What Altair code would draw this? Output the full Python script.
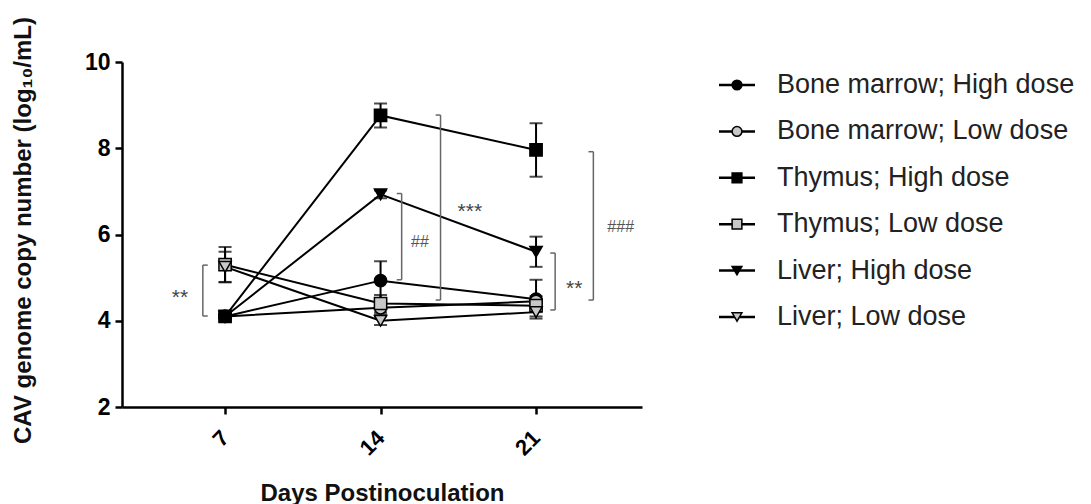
import altair as alt
import pandas as pd

# ---- data ----
days = [7, 14, 21]
series = [
    "Bone marrow; High dose",
    "Bone marrow; Low dose",
    "Thymus; High dose",
    "Thymus; Low dose",
    "Liver; High dose",
    "Liver; Low dose",
]
bm_high = [4.10, 4.93, 4.50]
bm_high_sem = [0.05, 0.45, 0.45]
bm_low = [4.10, 4.30, 4.45]
bm_low_sem = [0.05, 0.15, 0.12]
thy_high = [4.10, 8.76, 7.96]
thy_high_sem = [0.05, 0.28, 0.62]
thy_low = [5.30, 4.40, 4.35]
thy_low_sem = [0.41, 0.20, 0.15]
liv_high = [4.10, 6.93, 5.60]
liv_high_sem = [0.05, 0.09, 0.35]
liv_low = [5.25, 4.00, 4.20]
liv_low_sem = [0.35, 0.10, 0.10]

shapes = ["circle", "circle", "square", "square", "triangle-down", "triangle-down"]
fills = ["black", "#c8c8c8", "black", "#c8c8c8", "black", "#c8c8c8"]
marker_sizes = [150, 150, 165, 165, 200, 200]
legend_sizes = [95, 95, 105, 105, 130, 130]

# significance brackets
br_x = [6.00, 14.95, 16.70, 21.86, 23.58]
br_lo = [4.11, 4.95, 4.48, 4.25, 4.48]
br_hi = [5.29, 6.95, 8.77, 5.57, 7.92]
br_dir = [1, -1, -1, -1, -1]
br_label = ["**", "##", "***", "**", "###"]
lab_x = [4.97, 15.76, 18.02, 22.72, 24.80]
lab_y = [4.70, 5.83, 6.69, 4.90, 6.18]

means = [bm_high, bm_low, thy_high, thy_low, liv_high, liv_low]
sems = [bm_high_sem, bm_low_sem, thy_high_sem, thy_low_sem, liv_high_sem, liv_low_sem]

rows = []
for i, (name, m, s) in enumerate(zip(series, means, sems)):
    for d, mv, sv in zip(days, m, s):
        rows.append({"series": name, "order": i, "day": d, "mean": mv,
                     "lo": mv - sv, "hi": mv + sv})
df = pd.DataFrame(rows)

br = pd.DataFrame({"x": br_x, "lo": br_lo, "hi": br_hi,
                   "xe": [x + 0.22 * d for x, d in zip(br_x, br_dir)]})
lab = pd.DataFrame({"x": lab_x, "y": lab_y, "label": br_label})
lab_stars = lab[lab["label"].str.startswith("*")]
lab_hash = lab[lab["label"].str.startswith("#")]
leg = pd.DataFrame({"series": series})

FONT = "Liberation Sans"
xs = alt.Scale(domain=[2.36, 25.77], nice=False, zero=False)
ys = alt.Scale(domain=[2, 10], nice=False, zero=False)
shape_scale = alt.Scale(domain=series, range=shapes)
fill_scale = alt.Scale(domain=series, range=fills)
size_scale = alt.Scale(domain=series, range=marker_sizes)
leg_size_scale = alt.Scale(domain=series, range=legend_sizes)

x_axis = alt.Axis(values=days, labelAngle=-45, labelAlign="right", labelBaseline="middle",
                  labelPadding=20, labelFontSize=22, labelFontWeight="bold", labelFont=FONT,
                  labelColor="black", tickSize=7, tickWidth=2.5, tickColor="black",
                  domainWidth=2.5, domainColor="black", grid=False,
                  title="Days Postinoculation", titleFont=FONT, titleFontSize=24,
                  titleFontWeight="bold", titleColor="#111", titleBaseline="alphabetic",
                  titleY=93)
y_axis = alt.Axis(values=[2, 4, 6, 8, 10], labelFontSize=23, labelFontWeight="bold",
                  labelFont=FONT, labelColor="black", labelPadding=5, tickSize=7,
                  tickWidth=2.5, tickColor="black", domainWidth=2.5, domainColor="black",
                  grid=False, title="CAV genome copy number (log₁₀/mL)", titleFont=FONT,
                  titleFontSize=24, titleFontWeight="bold", titleColor="#111",
                  titleAngle=270, titleX=-99, titleY=168, titleAlign="center",
                  titleBaseline="middle")

base = alt.Chart(df)
lines = base.mark_line(color="black", strokeWidth=2).encode(
    x=alt.X("day:Q", scale=xs, axis=x_axis),
    y=alt.Y("mean:Q", scale=ys, axis=y_axis),
    detail="series:N",
    order="day:Q",
)
errs = base.mark_rule(color="black", strokeWidth=2).encode(
    x=alt.X("day:Q", scale=xs), y=alt.Y("lo:Q", scale=ys), y2="hi:Q")
caps = base.transform_fold(["lo", "hi"], as_=["k", "v"]).mark_tick(
    orient="horizontal", color="black", size=13, thickness=2).encode(
    x=alt.X("day:Q", scale=xs), y=alt.Y("v:Q", scale=ys))
points = base.mark_point(filled=True, stroke="black", strokeWidth=1.5, opacity=1).encode(
    x=alt.X("day:Q", scale=xs), y=alt.Y("mean:Q", scale=ys),
    shape=alt.Shape("series:N", scale=shape_scale, legend=None),
    fill=alt.Fill("series:N", scale=fill_scale, legend=None),
    size=alt.Size("series:N", scale=size_scale, legend=None),
    order="order:Q",
)

bcol = "#666666"
bv = alt.Chart(br).mark_rule(color=bcol, strokeWidth=1.5).encode(
    x=alt.X("x:Q", scale=xs), y=alt.Y("lo:Q", scale=ys), y2="hi:Q")
bt1 = alt.Chart(br).mark_rule(color=bcol, strokeWidth=1.5).encode(
    x=alt.X("x:Q", scale=xs), x2="xe:Q", y=alt.Y("lo:Q", scale=ys))
bt2 = alt.Chart(br).mark_rule(color=bcol, strokeWidth=1.5).encode(
    x=alt.X("x:Q", scale=xs), x2="xe:Q", y=alt.Y("hi:Q", scale=ys))
stars = alt.Chart(lab_stars).mark_text(font=FONT, fontSize=21, color="#444", baseline="middle",
                                       align="center", dy=7).encode(
    x=alt.X("x:Q", scale=xs), y=alt.Y("y:Q", scale=ys), text="label:N")
hashes = alt.Chart(lab_hash).mark_text(font=FONT, fontSize=16, color="#555", baseline="middle",
                                       align="center", fontStyle="italic").encode(
    x=alt.X("x:Q", scale=xs), y=alt.Y("y:Q", scale=ys), text="label:N")

main = alt.layer(lines, errs, caps, points, bv, bt1, bt2, stars, hashes)

ly = alt.Y("series:N", scale=alt.Scale(type="point", domain=series, range=[23, 255], padding=0),
           axis=None)
leg_line = alt.Chart(leg).mark_rule(color="black", strokeWidth=2.5).encode(
    x=alt.value(597), x2=alt.value(633), y=ly)
leg_pt = alt.Chart(leg).mark_point(filled=True, stroke="black", strokeWidth=1.5,
                                   opacity=1).encode(
    x=alt.value(615), y=ly,
    shape=alt.Shape("series:N", scale=shape_scale, legend=None),
    fill=alt.Fill("series:N", scale=fill_scale, legend=None),
    size=alt.Size("series:N", scale=leg_size_scale, legend=None))
leg_txt = alt.Chart(leg).mark_text(font=FONT, fontSize=27, align="left", baseline="middle",
                                   color="#222").encode(
    x=alt.value(655), y=ly, text="series:N")
legend = alt.layer(leg_line, leg_pt, leg_txt).resolve_scale(size="independent")

chart = alt.layer(main, legend).resolve_scale(y="independent", size="independent").properties(
    width=520, height=345,
    padding={"left": 122, "top": 62, "right": 449, "bottom": 97},
    autosize=alt.AutoSizeParams(type="none"),
    background="white",
).configure_view(stroke=None)

chart.save("out.html", embed_options={"renderer": "svg", "actions": False})
